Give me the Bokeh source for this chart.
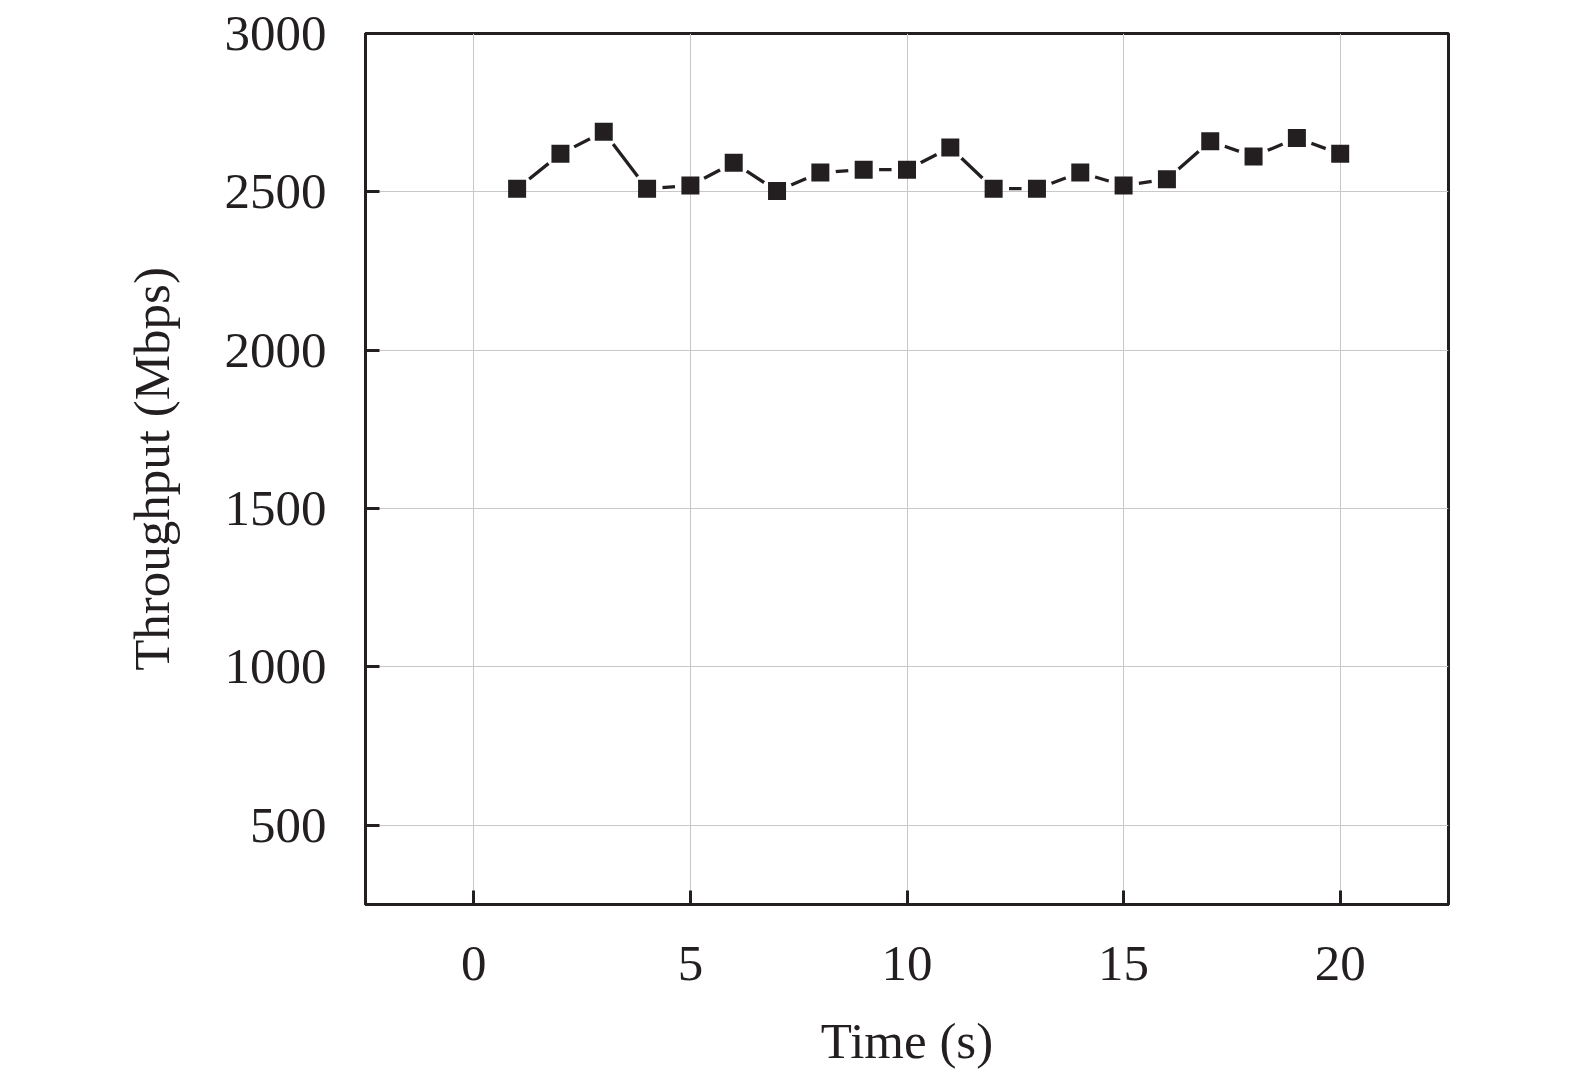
from bokeh.plotting import figure
from bokeh.models import FixedTicker, Range1d
from bokeh.embed import file_html
from bokeh.resources import INLINE

time_s = list(range(1, 21))
throughput = [2510, 2620, 2690, 2510, 2520, 2592, 2503, 2561, 2570, 2570,
              2640, 2510, 2510, 2561, 2520, 2540, 2660, 2612, 2670, 2620]
x_ticks = [0, 5, 10, 15, 20]
y_ticks = [500, 1000, 1500, 2000, 2500, 3000]

DARK = "#231f20"
FONT = "Liberation Serif"
FS = "51px"

p = figure(frame_width=1083, frame_height=871,
           x_range=Range1d(-2.5, 22.5), y_range=Range1d(250, 3000),
           output_backend="svg", toolbar_location=None,
           min_border_left=365, min_border_top=33,
           min_border_right=111, min_border_bottom=159)

p.background_fill_color = "white"
p.border_fill_color = "white"
p.outline_line_color = DARK
p.outline_line_width = 3

for ax in (p.xaxis[0], p.yaxis[0]):
    ax.axis_line_color = DARK
    ax.axis_line_width = 3
    ax.major_tick_in = 14
    ax.major_tick_out = 0
    ax.major_tick_line_color = DARK
    ax.major_tick_line_width = 3
    ax.minor_tick_line_color = None
    ax.major_label_text_font = FONT
    ax.major_label_text_font_size = FS
    ax.major_label_text_color = DARK
    ax.axis_label_text_font = FONT
    ax.axis_label_text_font_size = FS
    ax.axis_label_text_font_style = "normal"
    ax.axis_label_text_color = DARK

p.xaxis.ticker = FixedTicker(ticks=x_ticks)
p.yaxis.ticker = FixedTicker(ticks=y_ticks)
p.xaxis.axis_label = "Time (s)"
p.yaxis.axis_label = "Throughput (Mbps)"
p.xaxis.major_label_standoff = 42
p.yaxis.major_label_standoff = 39
p.xaxis.axis_label_standoff = 30
p.yaxis.axis_label_standoff = 42

p.grid.grid_line_color = "#c8c8c8"
p.grid.grid_line_width = 1

p.line(time_s, throughput, line_width=3.3, line_color=DARK, level="image")
p.scatter(time_s, throughput, marker="circle", size=31, fill_color="white",
          line_color=None, level="image")
p.scatter(time_s, throughput, marker="square", size=18, fill_color=DARK,
          line_color=None)

open("out.html", "w").write(file_html(p, INLINE))
